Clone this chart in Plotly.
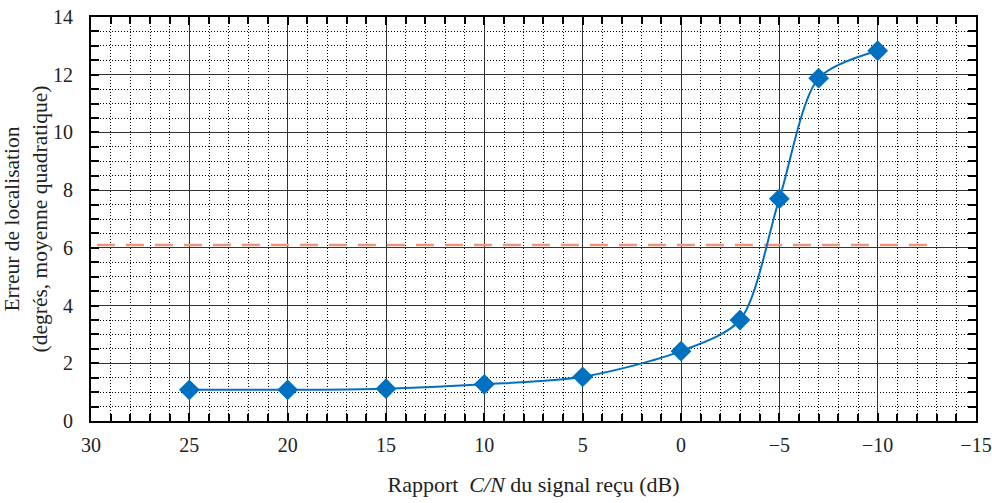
import plotly.graph_objects as go

cn_db = [25, 20, 15, 10, 5, 0, -3, -5, -7, -10]
err_deg = [1.08, 1.08, 1.12, 1.27, 1.53, 2.42, 3.5, 7.7, 11.88, 12.83]
threshold_x = [29.7, -12.7]
threshold_y = [6.1, 6.1]
x_ticks = [30, 25, 20, 15, 10, 5, 0, -5, -10, -15]
y_ticks = [0, 2, 4, 6, 8, 10, 12, 14]

font_family = "Liberation Serif"
blue = "#0070C0"
grid_major = "#333333"
text_col = "#222222"

fig = go.Figure()
fig.add_trace(go.Scatter(
    x=threshold_x, y=threshold_y, mode="lines",
    line=dict(color="#F0957C", width=2.5, dash="18px,11px"),
    hoverinfo="skip", showlegend=False,
))
fig.add_trace(go.Scatter(
    x=cn_db, y=err_deg, mode="lines+markers",
    line=dict(color=blue, width=2, shape="spline", smoothing=0.8),
    marker=dict(symbol="diamond", size=16, color=blue),
    showlegend=False,
))

axis_common = dict(
    showline=True, linecolor="black", linewidth=2, mirror="allticks",
    showgrid=True, gridcolor=grid_major, gridwidth=1,
    ticks="inside", ticklen=8, tickcolor="black", tickwidth=1.5,
    tickfont=dict(family=font_family, size=20, color=text_col),
    zeroline=False, automargin=False, ticklabeloverflow="allow",
)

fig.update_xaxes(
    **axis_common,
    range=[30, -15], tickvals=x_ticks,
    minor=dict(dtick=1, showgrid=True, griddash="1px,2px", gridcolor="black",
               gridwidth=1, ticks="inside", ticklen=7, tickcolor="black", tickwidth=1.5),
    ticklabelstandoff=5,
    title=dict(text="Rapport  <i>C/N</i> du signal reçu (dB)",
               font=dict(family=font_family, size=22, color=text_col), standoff=22),
)
fig.update_yaxes(
    **axis_common,
    range=[0, 14], tickvals=y_ticks,
    minor=dict(dtick=0.5, showgrid=True, griddash="1px,2px", gridcolor="black",
               gridwidth=1, ticks="inside", ticklen=8, tickcolor="black", tickwidth=1.5),
    ticklabelstandoff=12,
    title=dict(text="Erreur de localisation<br>(degrés, moyenne quadratique)",
               font=dict(family=font_family, size=21.5, color=text_col), standoff=5),
)

fig.update_layout(
    width=992, height=503,
    margin=dict(l=91, r=16, t=17, b=82),
    paper_bgcolor="white", plot_bgcolor="white",
    font=dict(family=font_family),
)

# remove the default 8px page margin so the figure fills the window exactly
fig.write_html("out.html", config={"displayModeBar": False},
               post_script="document.body.style.margin='0px';")
